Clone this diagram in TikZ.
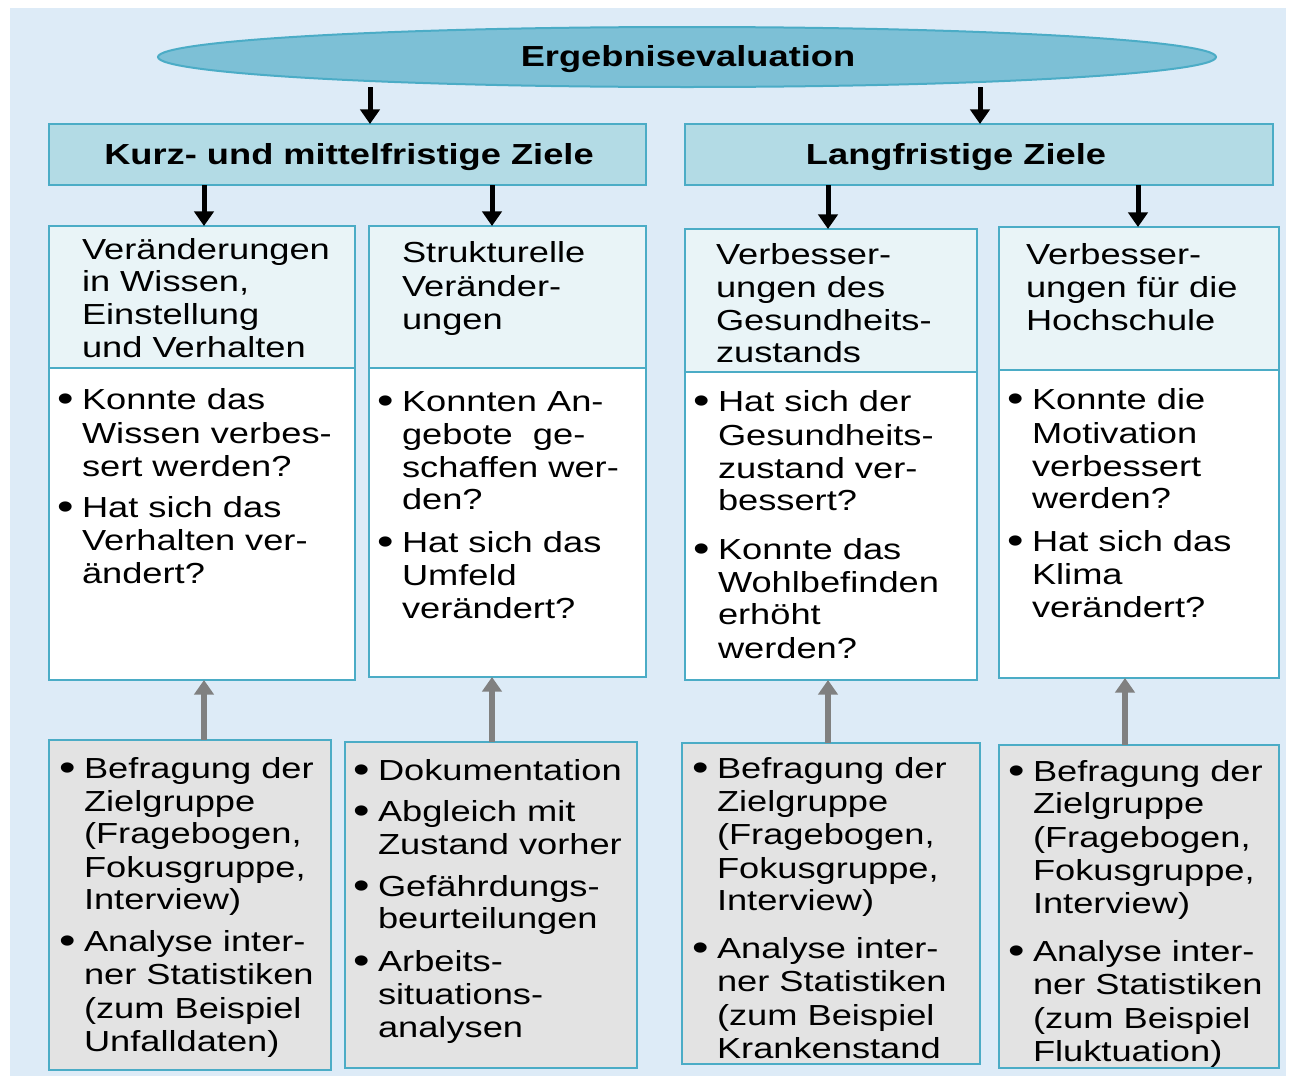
\documentclass[tikz,border=0pt]{standalone}
\usepackage{fontspec}
\setmainfont{Liberation Sans}[FakeStretch=1.25]
\usetikzlibrary{shapes.geometric,arrows.meta}

\definecolor{bgblue}{HTML}{DDEBF7}
\definecolor{frame}{HTML}{4BACC6}
\definecolor{ellfill}{HTML}{7DC0D6}
\definecolor{hdrfill}{HTML}{B3DBE5}
\definecolor{ttlfill}{HTML}{E9F4F7}
\definecolor{srcfill}{HTML}{E3E3E3}
\definecolor{upgray}{HTML}{808080}

% rectangle node from two corners given in pixels: style, name, x1, y1, x2, y2
\newcommand\boxat[6]{%
  \node[#1, minimum width={(#5-#3)*0.75pt}, minimum height={(#6-#4)*0.75pt}]
    (#2) at ({(#3+#5)/2},{(#4+#6)/2}) {};}
% one text node per line: x/baseline/text
\newcommand\textlines[2]{%
  \foreach \xx/\yy/\tx [count=\i] in {#2}{\node[ln] (#1-\i) at (\xx,\yy) {\tx};}}
\newcommand\bul{\makebox[18.75pt][l]{\raisebox{-2.2pt}{\scalebox{1.3}{•}}}}

\begin{document}
\begin{tikzpicture}[x=0.75pt,y=-0.75pt,
  every node/.style={inner sep=0pt, outer sep=0pt},
  frm/.style={rectangle, draw=frame, line width=2.2pt},
  hdr/.style={frm, fill=hdrfill},
  ttl/.style={frm, fill=ttlfill},
  qst/.style={frm, fill=white},
  src/.style={frm, fill=srcfill},
  ln/.style={anchor=base west, font=\fontsize{21.75}{26}\selectfont},
  hd/.style={anchor=base, font=\bfseries\fontsize{21.75}{26}\selectfont},
  down/.style={line width=3.75pt, -{Triangle[width=14.5pt,length=11pt]}},
  up/.style={draw=upgray, line width=4.5pt, -{Triangle[width=14.5pt,length=11pt]}, upgray}]

\useasboundingbox (0,0) rectangle (1289,1078);
\fill[white] (0,0) rectangle (1289,1078);
\fill[bgblue] (10,8) rectangle (1286,1076);

% top ellipse
\node[ellipse, draw=frame, fill=ellfill, line width=1.5pt,
      minimum width={1058*0.75pt}, minimum height={60*0.75pt}] (ell) at (687,57) {};
\node[hd] (ellT) at (688,66) {Ergebnisevaluation};

% goal headers
\boxat{hdr}{hdrL}{49}{124}{646}{185}
\boxat{hdr}{hdrR}{685}{124}{1273}{185}
\node[hd] (hdrLT) at (349,164) {Kurz- und mittelfristige Ziele};
\node[hd] (hdrRT) at (956,164) {Langfristige Ziele};

% column titles
\boxat{ttl}{t1}{49}{226}{355}{368}
\boxat{ttl}{t2}{369}{226}{646}{368}
\boxat{ttl}{t3}{685}{229}{977}{372}
\boxat{ttl}{t4}{999}{227}{1279}{370}

% question boxes
\boxat{qst}{q1}{49}{368}{355}{680}
\boxat{qst}{q2}{369}{368}{646}{677}
\boxat{qst}{q3}{685}{372}{977}{680}
\boxat{qst}{q4}{999}{370}{1279}{678}

% method boxes
\boxat{src}{b1}{49}{740}{331}{1070}
\boxat{src}{b2}{345}{742}{637}{1068}
\boxat{src}{b3}{682}{743}{980}{1064}
\boxat{src}{b4}{999}{745}{1279}{1068}

% arrow columns
\coordinate (xe1) at (370,0);
\coordinate (xe2) at (980,0);
\coordinate (xc1) at (204,0);
\coordinate (xc2) at (492,0);
\coordinate (xc3) at (828,0);
\coordinate (xc4) at (1138,0);
\coordinate (xu4) at (1125,0);

\draw[down] (ell.south -| xe1) -- (hdrL.north -| xe1);
\draw[down] (ell.south -| xe2) -- (hdrR.north -| xe2);
\draw[down] (hdrL.south -| xc1) -- (t1.north -| xc1);
\draw[down] (hdrL.south -| xc2) -- (t2.north -| xc2);
\draw[down] (hdrR.south -| xc3) -- (t3.north -| xc3);
\draw[down] (hdrR.south -| xc4) -- (t4.north -| xc4);

\draw[up] (b1.north -| xc1) -- (q1.south -| xc1);
\draw[up] (b2.north -| xc2) -- (q2.south -| xc2);
\draw[up] (b3.north -| xc3) -- (q3.south -| xc3);
\draw[up] (b4.north -| xu4) -- (q4.south -| xu4);

% title texts
\textlines{t1t}{82/259/Veränderungen, 82/291/{in Wissen,}, 82/324/Einstellung, 82/357/und Verhalten}
\textlines{t2t}{402/262/Strukturelle, 402/296/Veränder-, 402/329/ungen}
\textlines{t3t}{716/264/Verbesser-, 716/297/ungen des, 716/330/Gesundheits-, 716/362/zustands}
\textlines{t4t}{1026/264/Verbesser-, 1026/297/ungen für die, 1026/330/Hochschule}

% question texts
\textlines{q1t}{57/409/\bul Konnte das, 82/443/Wissen verbes-, 82/476/sert werden?,
  57/517/\bul Hat sich das, 82/550/Verhalten ver-, 82/583/ändert?}
\textlines{q2t}{377/411/\bul Konnten An-, 402/444/gebote\ \ ge-, 402/477/schaffen wer-, 402/509/den?,
  377/552/\bul Hat sich das, 402/585/Umfeld, 402/618/verändert?}
\textlines{q3t}{693/411/\bul Hat sich der, 718/445/Gesundheits-, 718/478/zustand ver-, 718/510/bessert?,
  693/559/\bul Konnte das, 718/592/Wohlbefinden, 718/624/erhöht, 718/658/werden?}
\textlines{q4t}{1007/409/\bul Konnte die, 1032/443/Motivation, 1032/476/verbessert, 1032/508/werden?,
  1007/551/\bul Hat sich das, 1032/584/Klima, 1032/617/verändert?}

% method texts
\textlines{b1t}{59/778/\bul Befragung der, 84/811/Zielgruppe, 84/843/{(Fragebogen,}, 84/877/{Fokusgruppe,}, 84/909/Interview),
  59/951/\bul Analyse inter-, 84/984/ner Statistiken, 84/1018/(zum Beispiel, 84/1051/Unfalldaten)}
\textlines{b2t}{353/780/\bul Dokumentation, 353/821/\bul Abgleich mit, 378/854/Zustand vorher,
  353/896/\bul Gefährdungs-, 378/928/beurteilungen, 353/971/\bul Arbeits-, 378/1004/situations-, 378/1037/analysen}
\textlines{b3t}{692/778/\bul Befragung der, 717/811/Zielgruppe, 717/844/{(Fragebogen,}, 717/878/{Fokusgruppe,}, 717/910/Interview),
  692/958/\bul Analyse inter-, 717/991/ner Statistiken, 717/1025/(zum Beispiel, 717/1058/Krankenstand}
\textlines{b4t}{1008/781/\bul Befragung der, 1033/813/Zielgruppe, 1033/847/{(Fragebogen,}, 1033/880/{Fokusgruppe,}, 1033/913/Interview),
  1008/961/\bul Analyse inter-, 1033/994/ner Statistiken, 1033/1028/(zum Beispiel, 1033/1061/Fluktuation)}

\end{tikzpicture}
\end{document}
